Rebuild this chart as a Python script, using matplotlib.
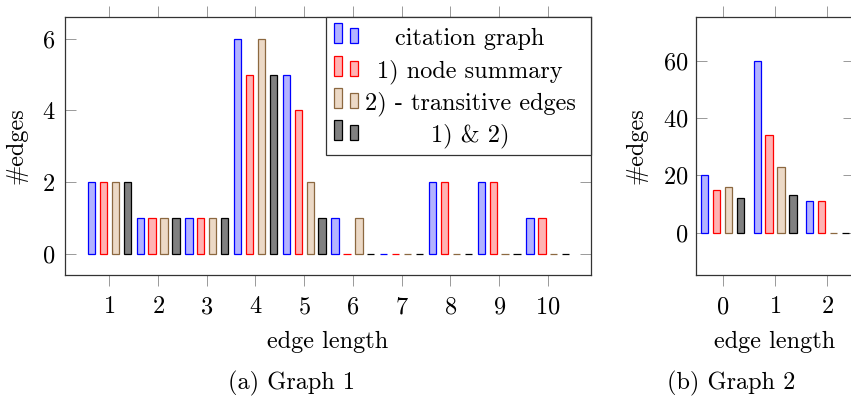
import numpy as np
import matplotlib.pyplot as plt
from matplotlib.patches import Rectangle

plt.rcParams['font.family'] = ['cmr10', 'DejaVu Serif']
plt.rcParams['axes.formatter.use_mathtext'] = True
plt.rcParams['mathtext.fontset'] = 'cm'

# series names and styles
series = ['citation graph', '1) node summary', '2) - transitive edges', '1) & 2)']
edge_colors = ['#0000ff', '#ff0000', '#8c6840', '#000000']
fill_colors = ['#b3b3ff', '#ffb3b3', '#ecd9c6', '#808080']

# Graph 1
g1_lengths = [1, 2, 3, 4, 5, 6, 7, 8, 9, 10]
g1_citation = [2, 1, 1, 6, 5, 1, 0, 2, 2, 1]
g1_summary = [2, 1, 1, 5, 4, 0, 0, 2, 2, 1]
g1_transitive = [2, 1, 1, 6, 2, 1, 0, 0, 0, 0]
g1_both = [2, 1, 1, 5, 1, 0, 0, 0, 0, 0]
g1_yticks = [0, 2, 4, 6]

# Graph 2
g2_lengths = [0, 1, 2]
g2_citation = [20, 60, 11]
g2_summary = [15, 34, 11]
g2_transitive = [16, 23, 0]
g2_both = [12, 13, 0]
g2_yticks = [0, 20, 40, 60]

W, H = 851, 396
FS = 17.5


def box(l, t, r, b):
    return [l / W, 1 - b / H, (r - l) / W, (b - t) / H]


def fig_xy(x, y):
    return x / W, 1 - y / H


def draw_bars(ax, xs, values, pitch_px=11.9, width_px=7.3):
    x0, x1 = ax.get_xlim()
    ppu = ax.get_position().width * W / (x1 - x0)
    pitch = pitch_px / ppu
    width = width_px / ppu
    xs = np.asarray(xs, dtype=float)
    for i, vals in enumerate(values):
        off = (i - 1.5) * pitch
        ax.bar(xs + off, vals, width=width, color=fill_colors[i],
               edgecolor=edge_colors[i], linewidth=0.9, zorder=2)


def style_axes(ax, xticks, yticks, ypad, ylabelpad):
    ax.set_xticks(xticks)
    ax.set_yticks(yticks)
    ax.tick_params(axis='x', direction='out', top=True, bottom=True,
                   length=7.9, width=0.7, color='#999999', pad=7, labelsize=FS)
    ax.tick_params(axis='y', direction='in', left=True, right=True,
                   length=7.9, width=0.7, color='#999999', pad=ypad, labelsize=FS)
    for sp in ax.spines.values():
        sp.set_color('#333333')
        sp.set_linewidth(0.9)
    ax.set_xlabel('edge length', fontsize=FS, labelpad=9)
    ax.set_ylabel('#edges', fontsize=FS, labelpad=ylabelpad)


fig = plt.figure(figsize=(W / 100, H / 100), dpi=100)

ax1 = fig.add_axes(box(65, 16.7, 590.7, 275.3))
ax1.set_xlim(0.09, 10.88)
ax1.set_ylim(-0.59, 6.61)
draw_bars(ax1, g1_lengths, [g1_citation, g1_summary, g1_transitive, g1_both])
style_axes(ax1, g1_lengths, g1_yticks, 7, 10)

ax2 = fig.add_axes(box(696, 16.7, 854, 275.3))
ax2.set_xlim(-0.51, 2.51)
ax2.set_ylim(-14.9, 75.3)
draw_bars(ax2, g2_lengths, [g2_citation, g2_summary, g2_transitive, g2_both])
style_axes(ax2, g2_lengths, g2_yticks, 5.5, 11)

# legend box in the top right of graph 1
lx0, ly0 = fig_xy(326, 155.3)
lx1, ly1 = fig_xy(590.7, 16.7)
fig.patches.append(Rectangle((lx0, ly0), lx1 - lx0, ly1 - ly0, transform=fig.transFigure,
                             facecolor='white', edgecolor='#333333', linewidth=0.9, zorder=5))
for i, name in enumerate(series):
    base = 43.3 + 32.2 * i
    for bx, bh in [(334, 20), (350, 15)]:
        x, y = fig_xy(bx, base)
        fig.patches.append(Rectangle((x, y), 8 / W, bh / H, transform=fig.transFigure,
                                     facecolor=fill_colors[i], edgecolor=edge_colors[i],
                                     linewidth=0.9, zorder=6))
    tx, ty = fig_xy(470, 45 + 32.2 * i)
    fig.text(tx, ty, name, ha='center', va='baseline', fontsize=FS, zorder=6)

cx, cy = fig_xy(292, 389)
fig.text(cx, cy, '(a) Graph 1', ha='center', va='baseline', fontsize=FS)
cx, cy = fig_xy(731, 389)
fig.text(cx, cy, '(b) Graph 2', ha='center', va='baseline', fontsize=FS)

fig.savefig('out.png', dpi=100)
